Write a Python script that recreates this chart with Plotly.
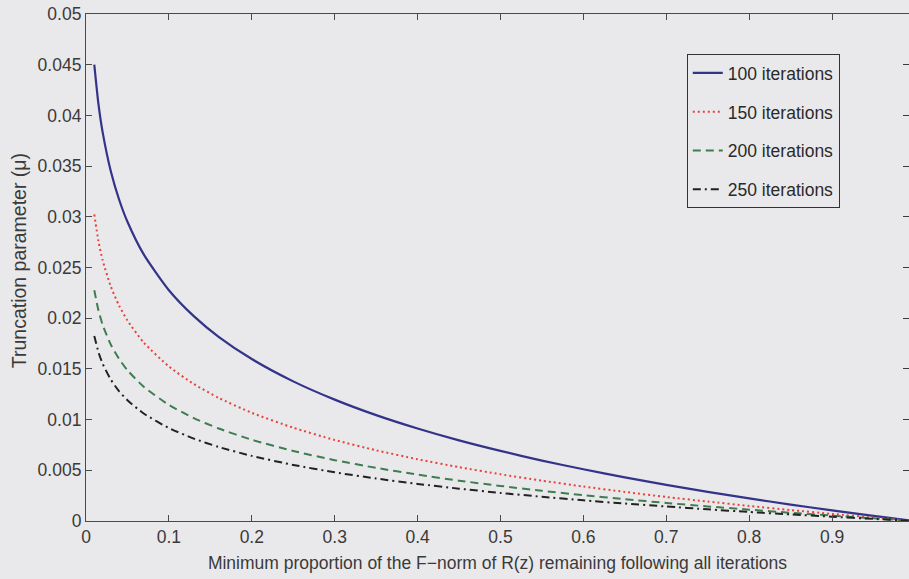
import plotly.graph_objects as go

# Proportion of F-norm remaining (x) and truncation parameter (y)
x_vals = [0.01, 0.015, 0.02, 0.03, 0.04, 0.05, 0.07, 0.1, 0.13, 0.16, 0.2, 0.25, 0.3,
          0.35, 0.4, 0.45, 0.5, 0.55, 0.6, 0.65, 0.7, 0.75, 0.8, 0.85, 0.9, 0.95, 0.99, 1.0]

mu_100 = [0.04501, 0.04113, 0.03837, 0.03446, 0.03168, 0.02951, 0.02624, 0.02276, 0.02020,
          0.01816, 0.01597, 0.01377, 0.01197, 0.01044, 0.00912, 0.00795, 0.00691, 0.00596,
          0.00510, 0.00430, 0.00356, 0.00287, 0.00223, 0.00162, 0.00105, 0.00051, 0.00010, 0.0]
mu_150 = [0.03023, 0.02761, 0.02574, 0.02311, 0.02123, 0.01977, 0.01757, 0.01524, 0.01351,
          0.01214, 0.01067, 0.00920, 0.00799, 0.00697, 0.00609, 0.00531, 0.00461, 0.00398,
          0.00340, 0.00287, 0.00237, 0.00192, 0.00149, 0.00108, 0.00070, 0.00034, 0.00007, 0.0]
mu_200 = [0.02276, 0.02078, 0.01937, 0.01738, 0.01597, 0.01487, 0.01321, 0.01145, 0.01015,
          0.00912, 0.00801, 0.00691, 0.00600, 0.00524, 0.00457, 0.00398, 0.00346, 0.00298,
          0.00255, 0.00215, 0.00178, 0.00144, 0.00112, 0.00081, 0.00053, 0.00026, 0.00005, 0.0]
mu_250 = [0.01825, 0.01666, 0.01553, 0.01393, 0.01279, 0.01191, 0.01058, 0.00917, 0.00813,
          0.00730, 0.00642, 0.00553, 0.00480, 0.00419, 0.00366, 0.00319, 0.00277, 0.00239,
          0.00204, 0.00172, 0.00143, 0.00115, 0.00089, 0.00065, 0.00042, 0.00021, 0.00004, 0.0]

series_names = ["100 iterations", "150 iterations", "200 iterations", "250 iterations"]

x_tickvals = [0, 0.1, 0.2, 0.3, 0.4, 0.5, 0.6, 0.7, 0.8, 0.9]
x_ticktext = ["0", "0.1", "0.2", "0.3", "0.4", "0.5", "0.6", "0.7", "0.8", "0.9"]
y_tickvals = [0, 0.005, 0.01, 0.015, 0.02, 0.025, 0.03, 0.035, 0.04, 0.045, 0.05]
y_ticktext = ["0", "0.005", "0.01", "0.015", "0.02", "0.025", "0.03", "0.035", "0.04", "0.045", "0.05"]

FONT = "Liberation Sans, Arial, Helvetica, sans-serif"
BG = "#e9e9eb"
AX = "#4a4a4a"

styles = [
    dict(color="#33338a", width=2.2, dash="solid"),
    dict(color="#e8423c", width=2, dash="2px,3px"),
    dict(color="#3f7c50", width=2, dash="8px,5px"),
    dict(color="#222222", width=2, dash="8px,4px,2px,4px"),
]

fig = go.Figure()
for i, (name, ys) in enumerate(zip(series_names, [mu_100, mu_150, mu_200, mu_250])):
    fig.add_trace(go.Scatter(
        x=x_vals, y=ys, mode="lines", name=name,
        line=dict(shape="spline", smoothing=0.6, **styles[i]),
        legendgroup=f"g{i}",
    ))

# transparent trace on a right-hand axis that only carries the right-side tick marks
fig.add_trace(go.Scatter(x=[0.5], y=[0.025], yaxis="y2", mode="markers",
                         marker=dict(opacity=0), showlegend=False, hoverinfo="skip"))

fig.update_layout(
    width=909, height=579,
    margin=dict(l=86, r=0, t=14, b=58),
    paper_bgcolor=BG, plot_bgcolor=BG,
    font=dict(family=FONT, size=17.5, color="#3a3a3a"),
    showlegend=True,
    legend=dict(
        x=0.730, y=0.921, xanchor="left", yanchor="top",
        bgcolor=BG, bordercolor="#333333", borderwidth=1,
        font=dict(family=FONT, size=17.5, color="#2a2a2a"),
        tracegroupgap=13,
    ),
    xaxis=dict(
        range=[0, 0.9928], tickvals=x_tickvals, ticktext=x_ticktext, automargin=False,
        ticks="inside", ticklen=6, tickcolor=AX, showline=True, linecolor=AX, linewidth=1.2,
        mirror="ticks", showgrid=False, zeroline=False,
        title=dict(text="Minimum proportion of the F\u2212norm of R(z) remaining following all iterations",
                   font=dict(size=17.5), standoff=10),
        tickfont=dict(size=17.5),
    ),
    yaxis=dict(
        range=[0, 0.05], tickvals=y_tickvals, ticktext=y_ticktext, automargin=False,
        ticks="inside", ticklen=6, tickcolor=AX, showline=True, linecolor=AX, linewidth=1.2,
        showgrid=False, zeroline=False,
        tickfont=dict(size=17.5),
    ),
    yaxis2=dict(
        overlaying="y", side="right", anchor="free", position=0.9995,
        range=[0, 0.05], tickmode="array", tickvals=y_tickvals, automargin=False,
        showticklabels=False, ticks="inside", ticklen=6, tickwidth=1.3, tickcolor="#3a3a3a",
        showline=False, showgrid=False, zeroline=False, visible=True,
    ),
    annotations=[dict(
        text="Truncation parameter (\u03bc)", textangle=-90, showarrow=False,
        xref="paper", yref="paper", x=-0.081, y=0.513, xanchor="center", yanchor="middle",
        font=dict(family=FONT, size=19.5, color="#3a3a3a"),
    )],
)

fig.write_html("out.html", post_script="document.body.style.margin='0';",
               config={"displayModeBar": False})
